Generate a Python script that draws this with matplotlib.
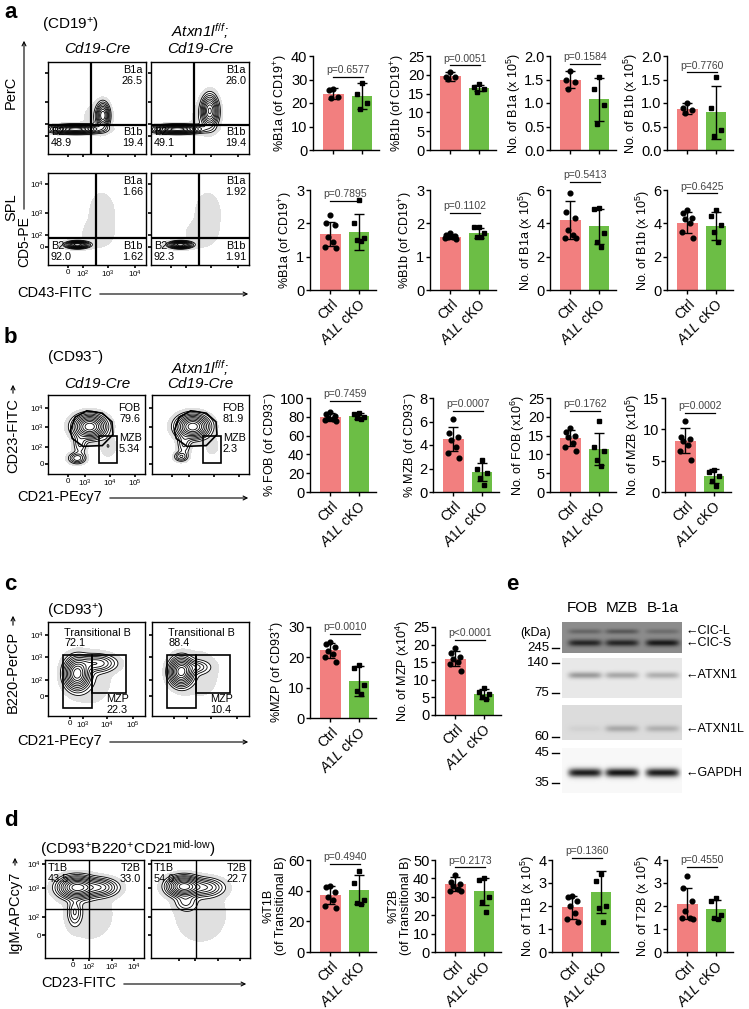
import numpy as np
import matplotlib.pyplot as plt
from matplotlib.lines import Line2D
from matplotlib.patches import FancyArrowPatch, Polygon, Rectangle

plt.rcParams['font.family'] = ['Liberation Sans', 'DejaVu Sans']
plt.rcParams['mathtext.fontset'] = 'custom'
plt.rcParams['mathtext.rm'] = 'Liberation Sans'
plt.rcParams['mathtext.it'] = 'Liberation Sans:italic'
plt.rcParams['mathtext.bf'] = 'Liberation Sans:bold'

W, H = 749, 1009
RED = '#F27F7F'
GREEN = '#6CBE45'

groups = ['Ctrl', r'$\mathit{A1L}$ cKO']

# ---- panel a : bar data (PerC row, then SPL row) ----
a_ylabels = [r'%B1a (of CD19$^{+}$)', r'%B1b (of CD19$^{+}$)',
             r'No. of B1a (x 10$^{5}$)', r'No. of B1b (x 10$^{5}$)']
a_perc_ctrl = [[26.0, 25.5, 22.5, 22.0], [20.8, 19.5, 19.3, 19.0],
               [1.68, 1.50, 1.45, 1.30], [1.00, 0.90, 0.85, 0.78]]
a_perc_cko = [[28.5, 24.0, 20.0, 17.5], [17.5, 16.8, 16.3, 15.5],
              [1.55, 1.30, 0.95, 0.55], [1.55, 0.90, 0.42, 0.30]]
a_perc_mean = [(24.0, 23.0), (19.6, 16.5), (1.50, 1.08), (0.88, 0.80)]
a_perc_sd = [(2.2, 5.5), (1.2, 0.9), (0.18, 0.46), (0.12, 0.56)]
a_perc_p = ['p=0.6577', 'p=0.0051', 'p=0.1584', 'p=0.7760']

a_spl_ctrl = [[2.25, 2.00, 1.95, 1.60, 1.45, 1.30, 1.25],
              [1.72, 1.66, 1.62, 1.60, 1.58, 1.56, 1.54],
              [5.85, 4.70, 4.30, 3.60, 3.30, 3.15, 3.10],
              [4.80, 4.60, 4.30, 4.25, 4.00, 3.50, 3.10]]
a_spl_cko = [[2.70, 2.00, 1.55, 1.50, 1.48],
             [1.90, 1.88, 1.72, 1.60, 1.58],
             [4.90, 4.85, 3.40, 2.90, 2.60],
             [4.80, 4.45, 3.90, 3.50, 2.90]]
a_spl_mean = [(1.68, 1.75), (1.60, 1.72), (4.20, 3.82), (4.05, 3.85)]
a_spl_sd = [(0.37, 0.54), (0.07, 0.15), (1.12, 1.07), (0.65, 0.82)]
a_spl_p = ['p=0.7895', 'p=0.1102', 'p=0.5413', 'p=0.6425']

# ---- panel b ----
b_ylabels = [r'% FOB (of CD93$^{-}$)', r'% MZB (of CD93$^{-}$)',
             r'No. of FOB (x10$^{6}$)', r'No. of MZB (x10$^{5}$)']
b_ctrl = [[85, 83, 81, 79, 78, 77, 76],
          [6.2, 5.0, 4.7, 4.4, 3.8, 3.3, 2.9],
          [17.0, 16.0, 15.0, 14.5, 13.0, 12.0, 11.0],
          [11.3, 8.8, 8.5, 8.2, 7.5, 6.5, 5.1]]
b_cko = [[84, 83, 80, 79, 78],
         [2.7, 2.0, 1.6, 1.2, 0.6],
         [19.0, 12.0, 11.0, 8.5, 7.0],
         [3.5, 3.2, 2.5, 1.8, 1.0]]
b_mean = [(80.0, 81.0), (4.5, 1.7), (14.3, 11.5), (8.2, 2.5)]
b_sd = [(4.0, 3.0), (1.05, 0.8), (2.1, 4.2), (2.0, 1.1)]
b_p = ['p=0.7459', 'p=0.0007', 'p=0.1762', 'p=0.0002']

# ---- panel c ----
c_ylabels = [r'%MZP (of CD93$^{+}$)', r'No. of MZP (x10$^{4}$)']
c_ctrl = [[25.0, 24.5, 23.5, 22.0, 21.0, 20.0, 18.5],
          [19.0, 17.5, 16.5, 16.0, 15.0, 14.5, 12.5]]
c_cko = [[17.5, 16.5, 11.0, 9.0, 8.0],
         [7.8, 6.5, 6.0, 5.2, 4.5]]
c_mean = [(22.3, 12.3), (16.0, 6.0)]
c_sd = [(2.4, 4.9), (2.1, 1.5)]
c_p = ['p=0.0010', 'p<0.0001']

# ---- panel d ----
d_ylabels = ['%T1B\n(of Transitional B)', '%T2B\n(of Transitional B)',
             r'No. of T1B (x 10$^{5}$)', r'No. of T2B (x 10$^{5}$)']
d_ctrl = [[43, 42.5, 39, 36, 34, 30, 29],
          [42, 38, 37, 36, 34, 33, 33],
          [2.45, 2.40, 2.20, 2.00, 1.70, 1.45, 1.30],
          [3.30, 2.80, 2.20, 1.80, 1.50, 1.50, 1.45]]
d_cko = [[53, 45, 34, 32, 31],
         [40, 39, 30, 27, 22],
         [3.40, 3.10, 2.00, 1.90, 1.30],
         [2.35, 2.20, 1.60, 1.50, 1.45]]
d_mean = [(37.0, 40.5), (37.0, 33.0), (1.95, 2.60), (2.10, 1.85)]
d_sd = [(6.0, 9.5), (4.0, 7.3), (0.50, 0.92), (0.67, 0.40)]
d_p = ['p=0.4940', 'p=0.2173', 'p=0.1360', 'p=0.4550']

# ---- flow cytometry gate percentages ----
a_perc_gates = [('26.5', '48.9', '19.4'), ('26.0', '49.1', '19.4')]
a_spl_gates = [('1.66', '92.0', '1.62'), ('1.92', '92.3', '1.91')]
b_gates = [('79.6', '5.34'), ('81.9', '2.3')]
c_gates = [('72.1', '22.3'), ('88.4', '10.4')]
d_gates = [('43.5', '33.0'), ('54.0', '22.7')]

# ---- western blot ----
blot_lanes = ['FOB', 'MZB', 'B-1a']
blot_markers = ['245', '140', '75', '60', '45', '35']
blot_targets = ['CIC-L', 'CIC-S', 'ATXN1', 'ATXN1L', 'GAPDH']
cic_l_band = [0.15, 0.20, 0.12]
cic_s_band = [0.40, 0.40, 0.45]
atxn1_band = [0.30, 0.25, 0.22]
atxn1l_band = [0.04, 0.20, 0.17]
gapdh_band = [0.85, 0.88, 0.85]

fig = plt.figure(figsize=(W / 100, H / 100), dpi=100)

FS_TICK = 10.5
FS_YLAB = 9
FS_XLAB = 10
FS_P = 7.5
FS_FLOW = 7.8
FS_AXIS = 10.5
FS_TITLE = 11
FS_PANEL = 16


def px_axes(x0, y0, x1, y1):
    return fig.add_axes([x0 / W, 1 - y1 / H, (x1 - x0) / W, (y1 - y0) / H])


def ftext(x, y, s, **kw):
    fig.text(x / W, 1 - y / H, s, **kw)


def fline(x0, y0, x1, y1, arrow=False, lw=0.8):
    if arrow:
        fig.add_artist(FancyArrowPatch((x0 / W, 1 - y0 / H), (x1 / W, 1 - y1 / H),
                                       transform=fig.transFigure, arrowstyle='->',
                                       mutation_scale=7, lw=lw, color='k'))
    else:
        fig.add_artist(Line2D([x0 / W, x1 / W], [1 - y0 / H, 1 - y1 / H],
                              transform=fig.transFigure, lw=lw, color='k'))


def jitter(n):
    pattern = [0.0, -0.17, 0.17, -0.08, 0.08, -0.2, 0.2]
    return np.array(pattern[:n])


def bar_chart(spine_x, top, bottom, ymax, step, ctrl, cko, mean, sd, p, ylabel,
              bracket, xlabels=True, decimals=0):
    ax = px_axes(spine_x, top, spine_x + 66, bottom)
    xs = [0, 1]
    ax.bar(xs, mean, width=0.72, color=[RED, GREEN], zorder=1)
    ax.errorbar(xs, mean, yerr=sd, fmt='none', ecolor='k', elinewidth=1,
                capsize=3.5, capthick=1, zorder=3)
    for xi, pts, mk in ((0, ctrl, 'o'), (1, cko, 's')):
        ax.plot(xi + jitter(len(pts)), pts, mk, color='k', ms=3.4, ls='none',
                zorder=4, clip_on=False)
    ax.set_xlim(-0.72, 1.6)
    ax.set_ylim(0, ymax)
    ticks = np.arange(0, ymax + step / 2, step)
    ax.set_yticks(ticks)
    ax.set_yticklabels([f'{t:.{decimals}f}' for t in ticks])
    ax.set_xticks(xs)
    if xlabels:
        ax.set_xticklabels(groups, rotation=45, ha='right', rotation_mode='anchor',
                           fontsize=FS_XLAB)
    else:
        ax.set_xticklabels([])
    for s in ('top', 'right'):
        ax.spines[s].set_visible(False)
    for s in ('left', 'bottom'):
        ax.spines[s].set_linewidth(1)
    ax.tick_params(axis='y', length=3, width=1, pad=1, labelsize=FS_TICK)
    ax.tick_params(axis='x', length=3, width=1, pad=2)
    ax.set_ylabel(ylabel, fontsize=FS_YLAB, labelpad=1, linespacing=1.0)
    ax.plot([-0.02, 1.02], [bracket, bracket], color='k', lw=0.9, clip_on=False)
    ax.annotate(p, (0.5, bracket), xytext=(0, 1.2), textcoords='offset points',
                ha='center', va='bottom', fontsize=FS_P, color='#444444',
                annotation_clip=False)
    return ax


def density_contours(ax, blobs, grey_floor=0.015):
    g = np.linspace(0, 1, 220)
    X, Y = np.meshgrid(g, g)
    Z = np.zeros_like(X)
    for cx, cy, sx, sy, w in blobs:
        Z += w * np.exp(-0.5 * ((X - cx) / sx) ** 2 - 0.5 * ((Y - cy) / sy) ** 2)
    zmax = Z.max()
    ax.contourf(X, Y, Z, levels=[grey_floor * zmax, 0.05 * zmax], colors=['#e0e0e0'])
    levels = zmax * np.array([0.05, 0.09, 0.14, 0.2, 0.28, 0.37, 0.48, 0.6, 0.73, 0.87])
    ax.contour(X, Y, Z, levels=levels, colors='k', linewidths=0.6)


def flow_axes(x0, y0, x1, y1, yt, xt, ylabels=None, xlabels=None):
    ax = px_axes(x0, y0, x1, y1)
    ax.set_xlim(0, 1)
    ax.set_ylim(0, 1)
    ax.set_yticks(yt)
    ax.set_xticks(xt)
    ax.set_yticklabels(ylabels if ylabels else [])
    ax.set_xticklabels(xlabels if xlabels else [])
    ax.tick_params(length=2, width=1.2, pad=1, labelsize=5.8)
    for s in ax.spines.values():
        s.set_linewidth(1)
    return ax


def gate_text(ax, x, y, s, ha='left'):
    ax.text(x, y, s, ha=ha, va='top', fontsize=FS_FLOW, linespacing=1.1,
            transform=ax.transAxes)


def genotype_titles(y_flox, y_cre):
    ftext(97, y_cre, 'Cd19-Cre', fontsize=FS_TITLE, style='italic', ha='center', va='center')
    ftext(200, y_flox, r'Atxn1l$^{\mathit{f/f}}$;', fontsize=FS_TITLE, style='italic',
          ha='center', va='center')
    ftext(200, y_cre, 'Cd19-Cre', fontsize=FS_TITLE, style='italic', ha='center', va='center')


flow_ylab = ['0', r'10$^{2}$', r'10$^{3}$', r'10$^{4}$']
flow_xlab_a = ['0', r'10$^{2}$', r'10$^{3}$', r'10$^{4}$']
flow_xlab_bc = ['0', r'10$^{3}$', r'10$^{4}$', r'10$^{5}$']

# ================= panel a =================
ftext(4, 12, 'a', fontsize=FS_PANEL, fontweight='bold', va='center')
ftext(70, 25, r'(CD19$^{+}$)', fontsize=FS_TITLE, ha='center', va='center')
genotype_titles(31, 49)

perc_blobs = [
    [(0.28, 0.27, 0.13, 0.025, 1.0), (0.56, 0.42, 0.035, 0.07, 0.7), (0.5, 0.38, 0.1, 0.12, 0.035)],
    [(0.27, 0.27, 0.13, 0.025, 1.0), (0.6, 0.47, 0.045, 0.09, 0.75), (0.55, 0.38, 0.1, 0.12, 0.035)],
]
spl_blobs = [
    [(0.3, 0.22, 0.06, 0.02, 1.0), (0.5, 0.33, 0.09, 0.08, 0.025), (0.55, 0.55, 0.1, 0.18, 0.018)],
    [(0.3, 0.22, 0.06, 0.02, 1.0), (0.5, 0.33, 0.09, 0.08, 0.025), (0.58, 0.55, 0.1, 0.18, 0.018)],
]
a_yt = [0.2, 0.33, 0.565, 0.88]
a_xt = [0.2, 0.36, 0.61, 0.89]
for i, x0 in enumerate((48, 151)):
    # PerC row
    ax = flow_axes(x0, 62, x0 + 98, 154, a_yt, a_xt)
    density_contours(ax, perc_blobs[i])
    ax.axvline(0.44, color='k', lw=1.6)
    ax.axhline(0.315, color='k', lw=1.6)
    b1a, b2, b1b = a_perc_gates[i]
    gate_text(ax, 0.97, 0.97, 'B1a\n' + b1a, ha='right')
    gate_text(ax, 0.03, 0.29, 'B2\n' + b2)
    gate_text(ax, 0.97, 0.29, 'B1b\n' + b1b, ha='right')
    # SPL row
    ax = flow_axes(x0, 173, x0 + 98, 265, a_yt, a_xt,
                   ylabels=flow_ylab if i == 0 else None,
                   xlabels=flow_xlab_a if i == 0 else None)
    density_contours(ax, spl_blobs[i], grey_floor=0.008)
    ax.axvline(0.49, color='k', lw=1.6)
    ax.axhline(0.29, color='k', lw=1.6)
    b1a, b2, b1b = a_spl_gates[i]
    gate_text(ax, 0.97, 0.97, 'B1a\n' + b1a, ha='right')
    gate_text(ax, 0.03, 0.26, 'B2\n' + b2)
    gate_text(ax, 0.97, 0.26, 'B1b\n' + b1b, ha='right')

ftext(11, 92, 'PerC', fontsize=FS_AXIS, rotation=90, ha='center', va='center')
ftext(11, 207, 'SPL', fontsize=FS_AXIS, rotation=90, ha='center', va='center')
ftext(24, 242, 'CD5-PE', fontsize=10, rotation=90, ha='center', va='center')
fline(24, 212, 24, 38, arrow=True)
ftext(17, 293, 'CD43-FITC', fontsize=FS_AXIS, ha='left', va='center')
fline(97, 294, 251, 294, arrow=True)

a_perc_lim = [(40, 10, 0, 31), (25, 5, 0, 22.5), (2.0, 0.5, 1, 1.83), (2.0, 0.5, 1, 1.65)]
a_spl_lim = [(3, 1, 0, 2.67), (3, 1, 0, 2.32), (6, 2, 0, 6.5), (6, 2, 0, 5.8)]
for k, sx in enumerate((313, 430, 550, 667)):
    ymax, step, dec, br = a_perc_lim[k]
    bar_chart(sx, 56, 150, ymax, step, a_perc_ctrl[k], a_perc_cko[k], a_perc_mean[k],
              a_perc_sd[k], a_perc_p[k], a_ylabels[k], br, xlabels=False, decimals=dec)
for k, sx in enumerate((310, 430, 550, 667)):
    ymax, step, dec, br = a_spl_lim[k]
    bar_chart(sx, 190, 290, ymax, step, a_spl_ctrl[k], a_spl_cko[k], a_spl_mean[k],
              a_spl_sd[k], a_spl_p[k], a_ylabels[k], br, decimals=dec)

# ================= panel b =================
ftext(4, 338, 'b', fontsize=FS_PANEL, fontweight='bold', va='center')
ftext(75, 357, r'(CD93$^{-}$)', fontsize=FS_TITLE, ha='center', va='center')
genotype_titles(368, 384)

b_blobs = [
    [(0.43, 0.6, 0.09, 0.08, 1.0), (0.3, 0.2, 0.05, 0.04, 0.25), (0.33, 0.38, 0.04, 0.08, 0.15), (0.62, 0.35, 0.05, 0.08, 0.05)],
    [(0.42, 0.6, 0.09, 0.08, 1.0), (0.3, 0.22, 0.04, 0.035, 0.2), (0.33, 0.38, 0.04, 0.08, 0.15), (0.62, 0.35, 0.05, 0.08, 0.03)],
]
b_yt = [0.13, 0.34, 0.6, 0.84]
b_xt = [0.21, 0.38, 0.64, 0.9]
fob_gate = [(0.23, 0.55), (0.28, 0.72), (0.4, 0.8), (0.56, 0.77), (0.66, 0.66),
            (0.67, 0.5), (0.56, 0.36), (0.36, 0.35), (0.25, 0.45)]
for i, x0 in enumerate((48, 152)):
    ax = flow_axes(x0, 395, x0 + 97, 474, b_yt, b_xt,
                   ylabels=flow_ylab if i == 0 else None,
                   xlabels=flow_xlab_bc if i == 0 else None)
    density_contours(ax, b_blobs[i])
    ax.add_patch(Polygon(fob_gate, closed=True, fill=False, ec='k', lw=1.2))
    ax.add_patch(Rectangle((0.53, 0.14), 0.18, 0.34, fill=False, ec='k', lw=1.2))
    fob, mzb = b_gates[i]
    gate_text(ax, 0.95, 0.9, 'FOB\n' + fob, ha='right')
    gate_text(ax, 0.73, 0.52, 'MZB\n' + mzb)
ftext(13, 436, 'CD23-FITC', fontsize=FS_AXIS, rotation=90, ha='center', va='center')
fline(13, 396, 13, 382, arrow=True)
ftext(17, 497, 'CD21-PEcy7', fontsize=FS_AXIS, ha='left', va='center')
fline(107, 498, 251, 498, arrow=True)

b_lim = [(100, 20, 97), (8, 2, 6.9), (25, 5, 21.5), (15, 5, 12.6)]
for k, sx in enumerate((310, 433, 550, 665)):
    ymax, step, br = b_lim[k]
    bar_chart(sx, 398, 492, ymax, step, b_ctrl[k], b_cko[k], b_mean[k], b_sd[k],
              b_p[k], b_ylabels[k], br)

# ================= panel c =================
ftext(4, 585, 'c', fontsize=FS_PANEL, fontweight='bold', va='center')
ftext(75, 611, r'(CD93$^{+}$)', fontsize=FS_TITLE, ha='center', va='center')
c_blobs = [
    [(0.3, 0.45, 0.07, 0.09, 1.0), (0.5, 0.56, 0.11, 0.05, 0.35), (0.45, 0.4, 0.15, 0.2, 0.035)],
    [(0.3, 0.47, 0.065, 0.08, 1.0), (0.45, 0.52, 0.08, 0.04, 0.2), (0.5, 0.45, 0.15, 0.2, 0.03)],
]
c_yt = [0.21, 0.38, 0.63, 0.86]
c_xt = [0.23, 0.36, 0.61, 0.88]
for i, x0 in enumerate((48, 152)):
    ax = flow_axes(x0, 622, x0 + 97, 716, c_yt, c_xt,
                   ylabels=flow_ylab if i == 0 else None,
                   xlabels=flow_xlab_bc if i == 0 else None)
    density_contours(ax, c_blobs[i])
    ax.add_patch(Rectangle((0.155, 0.09), 0.3, 0.56, fill=False, ec='k', lw=1.2))
    ax.add_patch(Rectangle((0.455, 0.25), 0.345, 0.4, fill=False, ec='k', lw=1.2))
    tb, mzp = c_gates[i]
    gate_text(ax, 0.17, 0.94, 'Transitional B\n' + tb)
    gate_text(ax, 0.6, 0.23, 'MZP\n' + mzp)
ftext(13, 672, 'B220-PerCP', fontsize=FS_AXIS, rotation=90, ha='center', va='center')
fline(13, 628, 13, 613, arrow=True)
ftext(17, 741, 'CD21-PEcy7', fontsize=FS_AXIS, ha='left', va='center')
fline(107, 742, 251, 742, arrow=True)

c_lim = [(30, 10, 718, 27.7), (25, 5, 715, 21.3)]
for k, sx in enumerate((310, 435)):
    ymax, step, bot, br = c_lim[k]
    bar_chart(sx, 627, bot, ymax, step, c_ctrl[k], c_cko[k], c_mean[k], c_sd[k],
              c_p[k], c_ylabels[k], br)

# ================= panel e : western blot =================
ftext(506, 585, 'e', fontsize=FS_PANEL, fontweight='bold', va='center')
lane_x = [582, 622, 663]
for lx, name in zip(lane_x, blot_lanes):
    ftext(lx, 608, name, fontsize=11, ha='center', va='center')
ftext(536, 633, '(kDa)', fontsize=9, ha='center', va='center')


def blot_strip(y0, y1, bg, bands):
    ax = px_axes(562, y0, 682, y1)
    nx, ny = 120, max(int(y1 - y0), 10)
    xx = np.linspace(0, 1, nx)[None, :]
    yy = np.linspace(0, 1, ny)[:, None]
    img = np.full((ny, nx), bg)
    lane_c = [0.19, 0.5, 0.84]
    for yc, thick, inten in bands:
        for c, v in zip(lane_c, inten):
            img -= v * np.exp(-((xx - c) / 0.14) ** 6) * np.exp(-0.5 * ((yy - yc) / thick) ** 2)
    ax.imshow(np.clip(img, 0, 1), cmap='gray', vmin=0, vmax=1, aspect='auto',
              extent=(0, 1, 1, 0), interpolation='bilinear')
    ax.set_xticks([])
    ax.set_yticks([])
    for s in ax.spines.values():
        s.set_visible(False)
    return ax


blot_strip(622, 653, 0.55, [(0.3, 0.06, cic_l_band), (0.68, 0.08, cic_s_band)])
blot_strip(658, 698, 0.91, [(0.43, 0.06, atxn1_band)])
blot_strip(705, 740, 0.86, [(0.68, 0.07, atxn1l_band)])
blot_strip(748, 793, 0.97, [(0.55, 0.07, gapdh_band)])

marker_y = [648, 663, 693, 737, 753, 783]
for my, lab in zip(marker_y, blot_markers):
    ftext(549, my, lab, fontsize=9.5, ha='right', va='center')
    fline(552, my, 559, my, lw=1)
target_y = [631, 643, 675, 729, 773]
for ty, lab in zip(target_y, blot_targets):
    ftext(685, ty, '\u2190' + lab, fontsize=9, ha='left', va='center')

# ================= panel d =================
ftext(4, 820, 'd', fontsize=FS_PANEL, fontweight='bold', va='center')
ftext(128, 849, r'(CD93$^{+}$B220$^{+}$CD21$^{\mathrm{mid}\text{-}\mathrm{low}}$)',
      fontsize=FS_TITLE, ha='center', va='center')
d_blobs = [
    [(0.32, 0.72, 0.1, 0.06, 1.0), (0.55, 0.72, 0.1, 0.05, 0.45), (0.3, 0.47, 0.04, 0.08, 0.2), (0.45, 0.45, 0.2, 0.22, 0.03)],
    [(0.33, 0.73, 0.09, 0.055, 1.0), (0.55, 0.72, 0.1, 0.05, 0.35), (0.35, 0.57, 0.06, 0.05, 0.15), (0.5, 0.45, 0.2, 0.22, 0.035)],
]
d_yt = [0.23, 0.42, 0.71, 0.96]
d_xt = [0.28, 0.44, 0.68, 0.9]
for i, (x0, vx) in enumerate(((45, 0.44), (151, 0.45))):
    ax = flow_axes(x0, 860, x0 + 99, 958, d_yt, d_xt,
                   ylabels=flow_ylab if i == 0 else None,
                   xlabels=flow_xlab_a if i == 0 else None)
    density_contours(ax, d_blobs[i])
    ax.axvline(vx, color='k', lw=1)
    ax.axhline(0.5, color='k', lw=1)
    t1, t2 = d_gates[i]
    gate_text(ax, 0.03, 0.97, 'T1B\n' + t1)
    gate_text(ax, 0.97, 0.97, 'T2B\n' + t2, ha='right')
ftext(15, 912, 'IgM-APCcy7', fontsize=FS_AXIS, rotation=90, ha='center', va='center')
fline(15, 868, 15, 855, arrow=True)
ftext(41, 983, 'CD23-FITC', fontsize=FS_AXIS, ha='left', va='center')
fline(121, 984, 249, 984, arrow=True)

d_lim = [(60, 20, 57.4), (50, 10, 46), (4, 1, 4.1), (4, 1, 3.7)]
for k, sx in enumerate((310, 435, 552, 667)):
    ymax, step, br = d_lim[k]
    bar_chart(sx, 860, 952, ymax, step, d_ctrl[k], d_cko[k], d_mean[k], d_sd[k],
              d_p[k], d_ylabels[k], br)

fig.savefig('out.png', dpi=100)
